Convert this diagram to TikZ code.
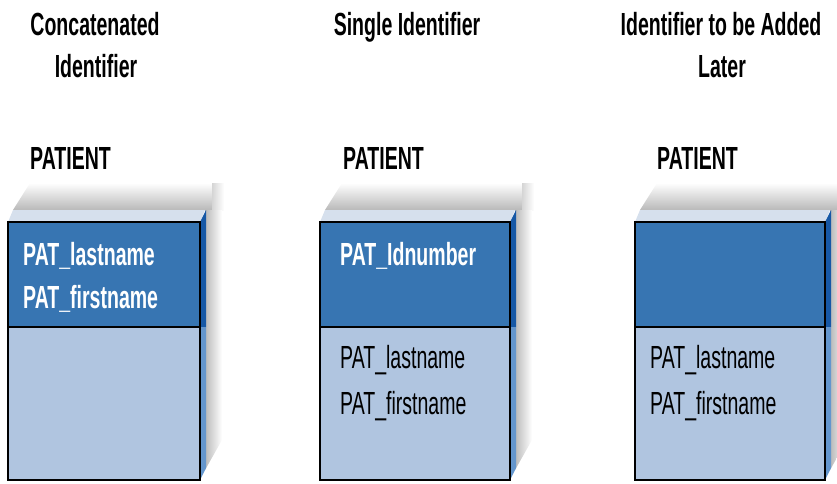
\documentclass[tikz,border=0pt]{standalone}
\usepackage{fontspec}
\setmainfont{Liberation Sans}[FakeStretch=0.61]
\usetikzlibrary{shadings}
\definecolor{darkblue}{RGB}{55,117,178}
\definecolor{lightblue}{RGB}{176,197,224}
\definecolor{topface}{RGB}{214,224,237}
\definecolor{sidedark}{RGB}{22,88,166}
\definecolor{sidelight}{RGB}{100,150,205}
\definecolor{shadowgray}{RGB}{185,185,185}
\tikzset{
  txt/.style={inner sep=0pt, font=\fontsize{32}{38}\selectfont},
  boldtxt/.style={txt, font=\fontsize{32}{38}\selectfont\bfseries},
  whitetxt/.style={boldtxt, text=white},
  border/.style={draw=black, line width=2.6pt},
}
% #1 = left x, #2 = right x, #3 = name
\newcommand{\entitybox}[3]{%
  % shadow above top face
  \shade[top color=white, bottom color=shadowgray]
    (#1+5,210) -- (#1+22,183) -- (#2+12,183) -- (#2+12,210) -- cycle;
  \shade[left color=shadowgray!60, right color=white]
    (#2+12,183) -- (#2+24,183) -- (#2+24,210) -- (#2+12,210) -- cycle;
  % shadow to the right of the side face
  \shade[left color=shadowgray, right color=white]
    (#2+5,210) -- (#2+22,210) -- (#2+22,440) -- (#2+5,470) -- cycle;
  % top face
  \fill[topface] (#1,222) -- (#1+5,210) -- (#2+5,210) -- (#2,222) -- cycle;
  % side face
  \fill[sidedark] (#2,222) -- (#2+6,210) -- (#2+6,327) -- (#2,327) -- cycle;
  \fill[sidelight] (#2,327) -- (#2+6,327) -- (#2+6,468) -- (#2,480) -- cycle;
  % front faces
  \fill[darkblue] (#1,222) rectangle (#2,327);
  \fill[lightblue] (#1,327) rectangle (#2,480);
  \draw[border] (#1,222) rectangle (#2,480);
  \draw[border] (#1,327) -- (#2,327);
  \coordinate (#3nw) at (#1,222);
}
\begin{document}
\begin{tikzpicture}[x=1pt,y=-1pt]
\useasboundingbox (0,0) rectangle (837,483);

\entitybox{8}{200}{b1}
\entitybox{320}{510}{b2}
\entitybox{635}{825}{b3}

% titles
\node[boldtxt, anchor=base] (t1a) at (95,35) {Concatenated};
\node[boldtxt, anchor=base] (t1b) at (96,77) {Identifier};
\node[boldtxt, anchor=base] (t2a) at (407,35) {Single Identifier};
\node[boldtxt, anchor=base] (t3a) at (721,35) {Identifier to be Added};
\node[boldtxt, anchor=base] (t3b) at (722,77) {Later};

% entity names
\node[boldtxt, anchor=base west] (p1) at (30,169) {PATIENT};
\node[boldtxt, anchor=base west] (p2) at (343,169) {PATIENT};
\node[boldtxt, anchor=base west] (p3) at (657,169) {PATIENT};

% box 1
\node[whitetxt, anchor=base west] (a1) at (23,265) {PAT\_lastname};
\node[whitetxt, anchor=base west] (a2) at (23,308) {PAT\_firstname};
% box 2
\node[whitetxt, anchor=base west] (a3) at (340,265) {PAT\_Idnumber};
\node[txt, anchor=base west] (a4) at (340,368) {PAT\_lastname};
\node[txt, anchor=base west] (a5) at (340,414) {PAT\_firstname};
% box 3
\node[txt, anchor=base west] (a6) at (650,368) {PAT\_lastname};
\node[txt, anchor=base west] (a7) at (650,414) {PAT\_firstname};
\end{tikzpicture}
\end{document}
